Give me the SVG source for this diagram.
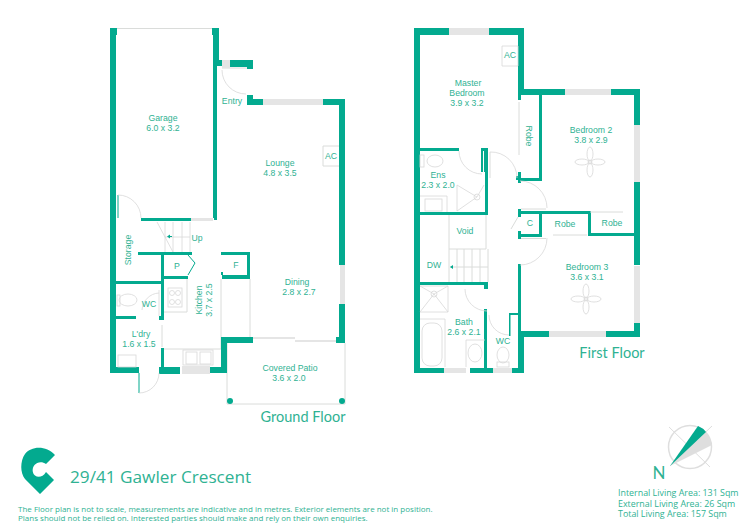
<svg xmlns="http://www.w3.org/2000/svg" width="750" height="530" viewBox="0 0 750 530">
<style>
text{font-family:"Liberation Sans",Arimo,sans-serif;fill:#2fb293;text-anchor:middle}
.r{font-size:8.700px}
.h{font-family:Lato,"Open Sans",sans-serif;font-size:14.500px}
.o{font-family:"Open Sans","Liberation Sans",sans-serif;text-anchor:start}
.w{fill:#03aa8f}
.g{fill:#e5e5e5}
.t{fill:none;stroke:#dadcda;stroke-width:1}
.d{fill:none;stroke:#d8d8d8;stroke-width:.8}
.l{fill:none;stroke:#03aa8f;stroke-width:1}
</style>
<rect width="750" height="530" fill="#fff"/>
<g id="ground-floor">
<path class="t" d="M227 343V404H345V343M117 28.500H212M221 279V349M250 279V337M253 338.500H295M295 341.500H336M222 68H247M162 325V347M323 146H339M323 166H339M323 146V166M164 312H187V279M163 349H221"/>
<path class="g" d="M191 218h22v3h-22zM222 60h8v8h-8zM263 99h60v6h-60zM340 265h5v39h-5zM182 366h28v8h-28zM253 337h42v2h-42zM295 340h41v2h-41z"/>
<path class="w" d="M110 28h7v7h-1v332h23v6h-29zM212 28h7v32h3v6h-5v154h-3v-2h-1V35h-1zM230 60h23v9h-6v-2h-17zM247 95h6v4h10v6h-16zM323 99h22v166h-6V105h-16zM339 304h6v39h-9v-6h3zM141 218h50v3h-50zM138 252h54v3h-54zM161 255h3v21h24v3h-24v1h-3zM218 252h32v27h-28v-4h-1v-3h2v3h24v-20h-26v-3h-3zM116 281h47v3h-47zM116 316h20v3h-20zM161 280h3v40h-5v-4h2zM161 348h3v19h16v7h-21v-7h2zM210 367h11v-30h32v6h-26v30h-17z"/>
<path class="l" d="M188 255l7 8-7 12M118 195v23M139 373v20"/>
<path class="d" d="M159 290v26M222 70A24 24 0 0 0 246 94M118 195A23 23 0 0 1 141 218M139 393A20 20 0 0 0 159 373M159 293A18 18 0 0 0 142 310M157 222L173 252M165 222V252M173 222V252M182 222V252M190 222V252M165 237H190"/>
<rect class="d" x="168" y="288" width="14" height="19"/>
<circle class="d" cx="172" cy="293" r="2.500"/><circle class="d" cx="178" cy="293" r="2.500"/>
<circle class="d" cx="172" cy="302" r="2.500"/><circle class="d" cx="178" cy="302" r="2.500"/>
<ellipse class="d" cx="128" cy="300" rx="9" ry="6"/>
<rect class="d" x="117" y="295" width="3" height="11"/>
<rect class="d" x="118" y="355" width="18" height="12"/>
<rect class="d" x="183" y="350" width="30" height="15"/>
<rect class="d" x="186" y="352" width="11" height="12"/>
<rect class="d" x="200" y="352" width="11" height="12"/>
<path class="w" d="M167 236.500l3-2v1.500h2v1h-2v1.500z"/>
<circle class="w" cx="230" cy="401" r="3"/>
<circle class="w" cx="342" cy="401" r="3"/>
<text class="r" x="163" y="121">Garage</text><text class="r" x="163" y="131">6.0 x 3.2</text>
<text class="r" x="232" y="104">Entry</text>
<text class="r" x="280" y="166">Lounge</text><text class="r" x="280" y="176">4.8 x 3.5</text>
<text class="r" x="331" y="159">AC</text>
<text class="r" x="197" y="241">Up</text>
<text class="r" x="177" y="269">P</text><text class="r" x="236" y="268">F</text>
<text class="r" x="149" y="307">WC</text>
<text class="r" transform="translate(131,250) rotate(-90)">Storage</text>
<text class="r" transform="translate(202,300) rotate(-90)">Kitchen</text>
<text class="r" transform="translate(212,300) rotate(-90)">3.7 x 2.5</text>
<text class="r" x="297" y="285">Dining</text><text class="r" x="299" y="295">2.8 x 2.7</text>
<text class="r" x="141" y="337">L'dry</text><text class="r" x="139" y="347">1.6 x 1.5</text>
<text class="r" x="290" y="371">Covered Patio</text><text class="r" x="289" y="381">3.6 x 2.0</text>
<text class="h" x="303" y="422">Ground Floor</text>
</g>
<g id="first-floor">
<path class="g" d="M449 28h40v7h-40zM565 89h46v6h-46zM634 125h6v57h-6zM634 266h6v57h-6zM549 331h57v6h-57zM444 368h22v5h-22zM493 368h19v5h-19z"/>
<path class="w" d="M414 28h35v7h-29v333h24v5h-30zM489 28h35v61h41v6h-44v5h-3V35h-29zM611 89h29v36h-6V95h-23zM634 182h6v83h-6zM634 323h6v14h-34v-6h28zM539 95h3v86h-21v2h-3v-3h-2v-4h2v-4h3v6h18zM420 148h39v3h-39zM481 148h7v67h-68v-3h65v-40h-1v-21h-1v21h-2zM518 209h3v2h70v25h-3v-22h-46v23h-21v2h-3v-8h3v3h18v-20h-18v3h-3zM588 233h47v3h-47zM634 212h2v4h-2zM420 282h68v7h-4v-4h-64zM484 309h3v59h6v5h-23v-5h14zM518 264h3v67h28v6h-25v36h-12v-5h6zM509 313h10v2h-10z"/>
<path class="w" d="M509 313h1.500v23h-1.500z"/>
<path class="t" d="M519 102V155M490 152V178M521 209H546M521 238.500H546M553 235H587M590 212H623M486 215V249H449V282M449 215V249M457 249V282M464 249V282M472 249V282M480 249V282M488 249V282M450 267H488M518 217l-7 12"/>
<path class="w" d="M450 267l3-2v4z"/>
<path class="d" d="M459 151A23 23 0 0 0 482 174M490 152A26 26 0 0 1 517 178M520 181A27 27 0 0 1 547 208M547 238A27 27 0 0 1 520 265M465 289A22 22 0 0 0 487 311M489 315A20 20 0 0 0 509 335M502 46h16v20h-16zM457 185V211M457 185L477 197L484 185M477 197L457 211M420 196H447V212M420 286H448V312M420 312L448 312M420 312L434 294L448 312M420 286L434 294L448 286M420 319H445V367M466 367V340H485"/>
<circle class="d" cx="477" cy="197" r="3"/>
<circle class="d" cx="434" cy="294" r="3"/>
<ellipse class="d" cx="435" cy="161" rx="8" ry="6"/>
<rect class="d" x="420" y="155" width="4" height="12"/>
<rect class="d" x="425" y="199" width="17" height="12"/>
<rect class="d" x="422" y="323" width="20" height="43" rx="8"/>
<ellipse class="d" cx="475" cy="353" rx="7" ry="9"/>
<ellipse class="d" cx="503" cy="355" rx="6" ry="8"/>
<rect class="d" x="497" y="362" width="12" height="5"/>
<g id="fan-bedroom-2">
<ellipse class="d" cx="590" cy="154" rx="3" ry="7"/><ellipse class="d" cx="590" cy="170" rx="3" ry="7"/><ellipse class="d" cx="582" cy="162" rx="7" ry="3"/><ellipse class="d" cx="598" cy="162" rx="7" ry="3"/><circle class="d" cx="590" cy="162" r="2"/>
</g>
<g id="fan-bedroom-3">
<ellipse class="d" cx="586" cy="291" rx="3" ry="7"/><ellipse class="d" cx="586" cy="307" rx="3" ry="7"/><ellipse class="d" cx="578" cy="299" rx="7" ry="3"/><ellipse class="d" cx="594" cy="299" rx="7" ry="3"/><circle class="d" cx="586" cy="299" r="2"/>
</g>
<text class="r" x="468" y="86">Master</text><text class="r" x="467" y="96">Bedroom</text><text class="r" x="467" y="106">3.9 x 3.2</text>
<text class="r" x="510" y="58">AC</text>
<text class="r" transform="translate(526,136) rotate(90)">Robe</text>
<text class="r" x="591" y="133">Bedroom 2</text><text class="r" x="591" y="143">3.8 x 2.9</text>
<text class="r" x="438" y="178">Ens</text><text class="r" x="438" y="188">2.3 x 2.0</text>
<text class="r" x="465" y="234">Void</text><text class="r" x="434" y="268">DW</text>
<text class="r" x="530" y="226">C</text><text class="r" x="565" y="227">Robe</text><text class="r" x="612" y="226">Robe</text>
<text class="r" x="587" y="270">Bedroom 3</text><text class="r" x="587" y="280">3.6 x 3.1</text>
<text class="r" x="464" y="325">Bath</text><text class="r" x="464" y="335">2.6 x 2.1</text>
<text class="r" x="503" y="344">WC</text>
<text class="h" x="612" y="358">First Floor</text>
</g>
<g id="brand">
<path class="w" d="M55 455L46 464C42 461 37 462 34.500 465C32 468 32 473 35 475.500C38 478 43 477 46 472L54 480L40 494L25 479C20 473 20 461 25 454C31 446 46 445 55 455Z"/>
<text class="o" x="70" y="483" font-size="17.200">29/41 Gawler Crescent</text>
<text class="o" x="18" y="512" font-size="8">The Floor plan is not to scale, measurements are indicative and in metres. Exterior elements are not in position.</text>
<text class="o" x="18" y="521" font-size="8">Plans should not be relied on. Interested parties should make and rely on their own enquiries.</text>
</g>
<g id="compass">
<circle cx="690" cy="447" r="21.500" fill="none" stroke="#dedede" stroke-width="1.500"/>
<path d="M669 427L710 467M712 426L670 466" stroke="#dedede" stroke-width="1" fill="none"/>
<path d="M670 466L706 432Q710 438 712 445Z" fill="#dedede"/>
<path class="w" d="M670 466L698 426Q703 428 706 432Z"/>
<text class="h" x="659" y="479" style="font-size:17px">N</text>
<text class="o" x="618" y="496" font-size="8.900">Internal Living Area: 131 Sqm</text>
<text class="o" x="618" y="507" font-size="8.900">External Living Area: 26 Sqm</text>
<text class="o" x="618" y="517" font-size="8.900">Total Living Area: 157 Sqm</text>
</g>
</svg>
